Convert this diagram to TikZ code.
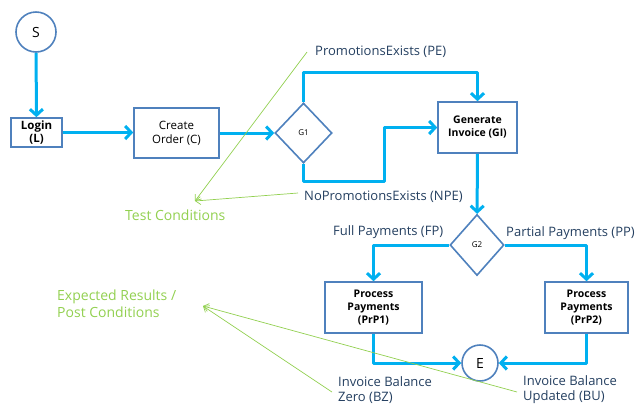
\documentclass[tikz,border=0pt]{standalone}
\usepackage{fontspec}
\setmainfont{Open Sans}
\usetikzlibrary{shapes.geometric,arrows.meta}
\definecolor{flowc}{HTML}{00B0F0}
\definecolor{boxc}{HTML}{4F81BD}
\definecolor{greenc}{HTML}{92D050}
\definecolor{labc}{HTML}{243F60}
\tikzset{
  boxn/.style={draw=boxc, line width=1.6pt, fill=white, rectangle, align=center, inner sep=1pt,
     font=\fontsize{10.5}{13}\selectfont\bfseries},
  circn/.style={draw=boxc, line width=1.6pt, fill=white, circle, inner sep=0pt, font=\fontsize{14}{15}\selectfont},
  diamn/.style={draw=boxc, line width=1.6pt, fill=white, diamond, inner sep=0pt, font=\fontsize{8}{9}\selectfont},
  flow/.style={draw=flowc, line width=3pt, line join=round, -{Straight Barb[length=6pt,width=13pt]}},
  lab/.style={text=labc, anchor=west, align=left, inner sep=0pt, font=\fontsize{13}{15}\selectfont},
  glab/.style={text=greenc, anchor=west, align=left, inner sep=0pt, font=\fontsize{14}{17}\selectfont},
  gline/.style={draw=greenc, line width=0.7pt, -{Straight Barb[length=5pt,width=8pt]}}
}
\begin{document}
\begin{tikzpicture}[x=1pt,y=-1pt]
\useasboundingbox (0,0) rectangle (636,408);
% nodes
\node[circn, minimum size=40pt] (S) at (36,32) {S};
\node[boxn, minimum width=51pt, minimum height=29pt, font=\fontsize{11.5}{12.5}\selectfont\bfseries] (L) at (36.5,132.5) {Login\\(L)};
\node[boxn, minimum width=85pt, minimum height=50pt, font=\fontsize{11.5}{14}\selectfont] (C) at (176.5,133) {Create\\Order (C)};
\node[diamn, minimum width=57pt, minimum height=60pt] (G1) at (303.5,133) {G1};
\node[boxn, minimum width=79pt, minimum height=51pt] (GI) at (477.5,127.5) {Generate\\Invoice (GI)};
\node[diamn, minimum width=54pt, minimum height=61pt] (G2) at (477,245) {G2};
\node[boxn, minimum width=97pt, minimum height=51pt] (P1) at (373.5,307.5) {Process\\Payments\\(PrP1)};
\node[boxn, minimum width=83pt, minimum height=51pt] (P2) at (586.5,307.5) {Process\\Payments\\(PrP2)};
\node[circn, minimum size=36pt] (E) at (480,363) {E};
% labels
\node[lab] (PE) at (315,52) {PromotionsExists (PE)};
\node[lab] (NPE) at (304,197) {NoPromotionsExists (NPE)};
\node[glab] (TC) at (125,215) {Test Conditions};
\node[lab] (FP) at (333,232) {Full Payments (FP)};
\node[lab] (PP) at (506,233) {Partial Payments (PP)};
\node[lab] (BZ) at (338,390) {Invoice Balance\\Zero (BZ)};
\node[lab] (BU) at (523,390) {Invoice Balance\\Updated (BU)};
\node[glab] (ER) at (57,304) {Expected Results /\\Post Conditions};
% flow connectors
\draw[flow] (S) -- (L);
\draw[flow] (L) -- (L -| C.west);
\draw[flow] (C) -- (G1);
\draw[flow] (G1.north) -- ++(0,-30) -| (GI.north);
\draw[flow] (G1.south) |- (384,181) |- (GI.west);
\draw[flow] (GI) -- (G2);
\draw[flow] (G2.west) -| (P1.north);
\draw[flow] (G2.east) -| (P2.north);
\draw[flow] (P1.south) |- (E.west);
\draw[flow] (P2.south) |- (E.east);
% green annotation lines
\coordinate (tcTip) at (195,201);
\coordinate (erTip) at (203,306);
\coordinate (peEnd) at (307,52);
\coordinate (npeEnd) at (298,193);
\coordinate (bzEnd) at (332,392);
\coordinate (buEnd) at (517,392);
\draw[gline] (peEnd) -- (tcTip);
\draw[gline] (npeEnd) -- (tcTip);
\draw[gline] (bzEnd) -- (erTip);
\draw[gline] (buEnd) -- (erTip);
\end{tikzpicture}
\end{document}
